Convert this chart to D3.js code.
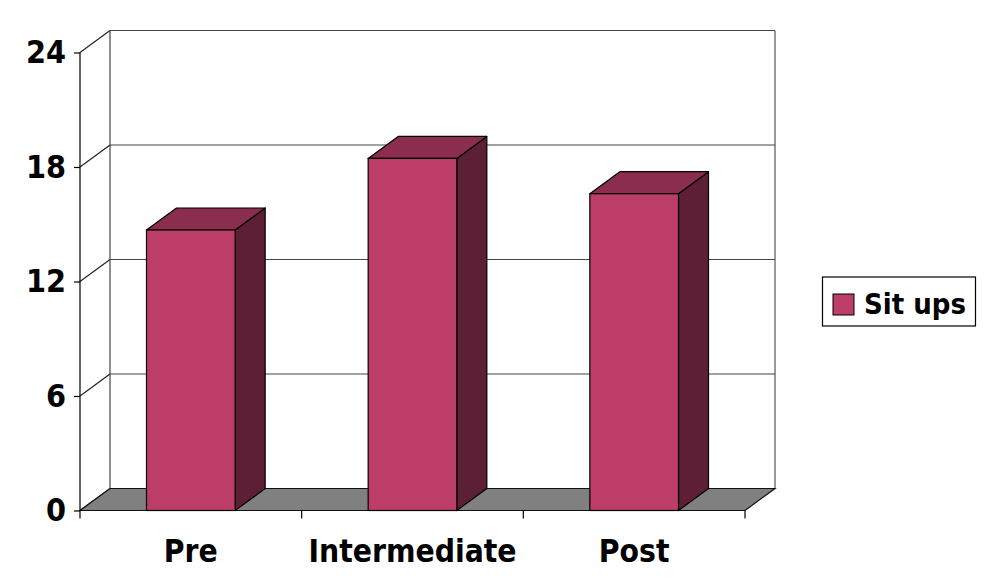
<!DOCTYPE html>
<html><head><meta charset="utf-8">
<script src="https://cdn.jsdelivr.net/npm/d3@7/dist/d3.min.js"></script>
<style>body{margin:0;background:#fff;}svg{display:block;}</style>
</head><body><svg id="c" width="1000" height="583"></svg>
<script>
const categories = ["Pre", "Intermediate", "Post"];
const seriesName = "Sit ups";
const values = [14.7, 18.45, 16.6];
const yTicks = [0, 6, 12, 18, 24];

const FONT = "'DejaVu Sans Condensed', 'DejaVu Sans', sans-serif";
const svg = d3.select("#c");
const x0 = 80, x1 = 745, yBase = 510.5, yTop = 52.5;
const dx = 30, dy = -22;
const y = d3.scaleLinear().domain([0, 24]).range([yBase, yTop]);
const x = d3.scaleBand().domain(categories).range([x0, x1]).paddingInner(0.6).paddingOuter(0.3);

// back wall gridlines
const g = svg.append("g");
yTicks.forEach(t => {
  g.append("line").attr("x1", x0 + dx).attr("x2", x1 + dx)
    .attr("y1", y(t) + dy).attr("y2", y(t) + dy).attr("stroke", "#444").attr("stroke-width", 1.2);
  g.append("line").attr("x1", x0).attr("x2", x0 + dx)
    .attr("y1", y(t)).attr("y2", y(t) + dy).attr("stroke", "#222").attr("stroke-width", 1.2);
});
// back wall verticals
g.append("line").attr("x1", x0 + dx).attr("x2", x0 + dx).attr("y1", y(24) + dy).attr("y2", y(0) + dy).attr("stroke", "#444").attr("stroke-width", 1.2);
g.append("line").attr("x1", x1 + dx).attr("x2", x1 + dx).attr("y1", y(24) + dy).attr("y2", y(0) + dy).attr("stroke", "#555").attr("stroke-width", 1.2);

// floor
g.append("polygon")
  .attr("points", [[x0, yBase], [x1, yBase], [x1 + dx, yBase + dy], [x0 + dx, yBase + dy]].map(p => p.join(",")).join(" "))
  .attr("fill", "#808080").attr("stroke", "#111").attr("stroke-width", 1.2);

// y axis
const ya = svg.append("g").attr("transform", `translate(${x0},0)`)
  .call(d3.axisLeft(y).tickValues(yTicks).tickSize(6).tickPadding(8).tickFormat(d3.format("d")));
ya.select(".domain").remove();
ya.append("line").attr("x1", 0).attr("x2", 0).attr("y1", yTop).attr("y2", yBase + 8).attr("stroke", "#000").attr("stroke-width", 1.2);
ya.selectAll(".tick line").attr("stroke", "#000").attr("stroke-width", 1.2);
ya.selectAll(".tick text").attr("font-family", FONT).attr("font-weight", "bold").attr("font-size", 32).attr("fill", "#000");

// x axis
const xa = svg.append("g").attr("transform", `translate(0,${yBase})`)
  .call(d3.axisBottom(x).tickSize(0).tickPadding(51));
xa.select(".domain").remove();
xa.selectAll(".tick text").attr("font-family", FONT).attr("font-weight", "bold").attr("font-size", 31.5).attr("fill", "#000").attr("dy", "0");
const step = x.step();
[1, 2, 3].forEach(i => {
  xa.append("line").attr("x1", x0 + i * step).attr("x2", x0 + i * step).attr("y1", 0).attr("y2", 8).attr("stroke", "#000").attr("stroke-width", 1.2);
});

// bars
const bars = svg.append("g");
categories.forEach((c, i) => {
  const bx = x(c), bw = x.bandwidth(), top = y(values[i]);
  const b = bars.append("g");
  b.append("polygon").attr("points", [[bx + bw, top], [bx + bw + dx, top + dy], [bx + bw + dx, yBase + dy], [bx + bw, yBase]].map(p => p.join(",")).join(" "))
    .attr("fill", "#5C1F35").attr("stroke", "#000").attr("stroke-width", 1.2).attr("stroke-linejoin", "round");
  b.append("polygon").attr("points", [[bx, top], [bx + dx, top + dy], [bx + bw + dx, top + dy], [bx + bw, top]].map(p => p.join(",")).join(" "))
    .attr("fill", "#8A2D4E").attr("stroke", "#000").attr("stroke-width", 1.2).attr("stroke-linejoin", "round");
  b.append("rect").attr("x", bx).attr("y", top).attr("width", bw).attr("height", yBase - top)
    .attr("fill", "#BB3D68").attr("stroke", "#000").attr("stroke-width", 1.2);
});

// legend
const lg = svg.append("g");
lg.append("rect").attr("x", 822.5).attr("y", 277).attr("width", 153).attr("height", 49).attr("fill", "#fff").attr("stroke", "#000").attr("stroke-width", 1.2);
lg.append("rect").attr("x", 833).attr("y", 294).attr("width", 21).attr("height", 21).attr("fill", "#BB3D68").attr("stroke", "#000").attr("stroke-width", 1);
lg.append("text").attr("x", 864).attr("y", 314).text(seriesName)
  .attr("font-family", FONT).attr("font-weight", "bold").attr("font-size", 29).attr("fill", "#000");
</script></body></html>
